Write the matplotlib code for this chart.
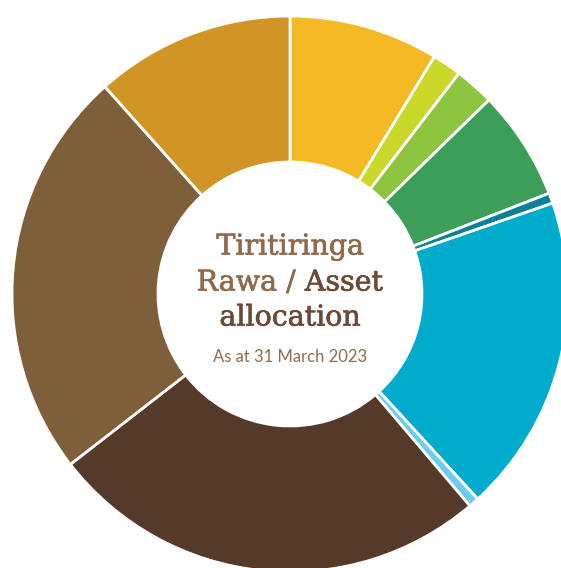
import matplotlib
matplotlib.use("Agg")
import matplotlib.pyplot as plt
import matplotlib.patheffects as pe

# asset allocation shares (%), clockwise from 12 o'clock
shares = [8.7, 1.7, 2.3, 6.4, 0.6, 18.5, 0.6, 25.7, 23.9, 11.6]
colours = ["#F3BA26", "#CAD929", "#8DC541", "#3D9E5A", "#0E809A",
           "#00ABCB", "#6DCCEB", "#553929", "#7F5F3A", "#D19526"]

title_light = "#8D6B4C"
title_dark = "#6A4B37"

W, H = 561, 568
fig = plt.figure(figsize=(W / 100, H / 100), dpi=100)
ax = fig.add_axes([0, 0, 1, 1])

cx, cy = 290, H - 294
R, r_in = 278, 132

ax.pie(shares, colors=colours, startangle=90, counterclock=False,
       center=(cx, cy), radius=R, frame=True,
       wedgeprops=dict(width=R - r_in, edgecolor="white", linewidth=2))
ax.set_xlim(0, W)
ax.set_ylim(0, H)
ax.set_aspect("equal")
ax.axis("off")


def heavy(colour):
    # thicken the book weight a little, the original face is a medium slab
    return [pe.withStroke(linewidth=0.5, foreground=colour)]


serif = dict(family="DejaVu Serif", fontsize=20.5)
ax.text(cx, H - 247, "Tiritiringa", ha="center", va="center", color=title_light,
        path_effects=heavy(title_light), **serif)

# mixed colour line: "Rawa / " light, "Asset" dark
fig.canvas.draw()
rend = fig.canvas.get_renderer()
ya = H - 283
t1 = ax.text(0, ya, "Rawa / ", ha="left", va="center", color=title_light,
             path_effects=heavy(title_light), **serif)
t2 = ax.text(0, ya, "Asset", ha="left", va="center", color=title_dark,
             path_effects=heavy(title_dark), **serif)
w1 = t1.get_window_extent(rend).width
w2 = t2.get_window_extent(rend).width
x0 = cx - (w1 + w2) / 2
t1.set_x(x0)
t2.set_x(x0 + w1)

ax.text(cx, H - 318, "allocation", ha="center", va="center", color=title_dark,
        path_effects=heavy(title_dark), **serif)
ax.text(cx, H - 357, "As at 31 March 2023", ha="center", va="center",
        color=title_light, family="Lato", fontsize=12)

fig.savefig("out.png", dpi=100)
